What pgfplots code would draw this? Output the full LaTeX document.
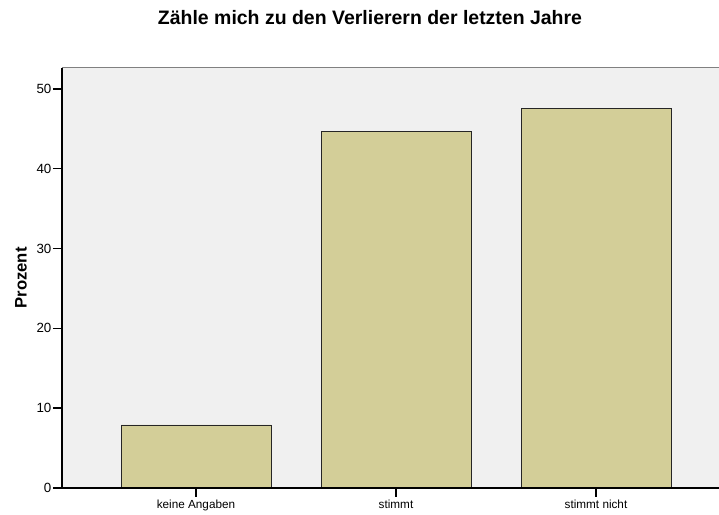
\documentclass[border=0pt]{standalone}
\usepackage{pgfplots}
\pgfplotsset{compat=1.18}
\usepackage{fontspec}
\setmainfont{Liberation Sans}
\definecolor{bg}{HTML}{F0F0F0}
\definecolor{barc}{HTML}{D3CE98}
\begin{document}
\begin{tikzpicture}[x=0.75pt,y=0.75pt]
\useasboundingbox (0,0) rectangle (719,515);
\node[font=\bfseries\fontsize{14.6}{16}\selectfont] at (370,497) {Zähle mich zu den Verlierern der letzten Jahre};
\begin{axis}[
  at={(62*0.75pt,27*0.75pt)}, anchor=south west,
  scale only axis, width=657*0.75pt, height=420*0.75pt,
  xmin=-0.67, xmax=2.615, ymin=0, ymax=52.6,
  axis background/.style={fill=bg},
  axis line style={draw=none},
  ytick={0,10,20,30,40,50},
  xtick={0,1,2},
  xtick pos=bottom, ytick pos=left,
  xticklabels={keine Angaben, stimmt, stimmt nicht},
  tick align=outside,
  major tick length=9*0.75pt,
  tick style={black, line width=1.6*0.75pt},
  yticklabel style={font=\fontsize{10}{11}\selectfont, inner sep=1pt},
  xticklabel style={font=\fontsize{8.8}{10}\selectfont, inner sep=2pt},
  /pgf/number format/assume math mode=true,
  ylabel={\bfseries Prozent},
  ylabel style={font=\fontsize{12.5}{14}\selectfont, at={(axis description cs:-0.0624,0.5)}, anchor=center},
  ybar, bar width=0.75,
  clip=false,
]
\addplot[fill=barc, draw=black!85, line width=0.75*0.75pt] coordinates {(0,7.9) (1,44.6) (2,47.5)};
\draw[gray, line width=0.75pt] (rel axis cs:0,1) -- (rel axis cs:1,1);
\draw[black, line width=1.6*0.75pt] (rel axis cs:0,1) -- (rel axis cs:0,0) -- (rel axis cs:1,0);
\end{axis}
\end{tikzpicture}
\end{document}
